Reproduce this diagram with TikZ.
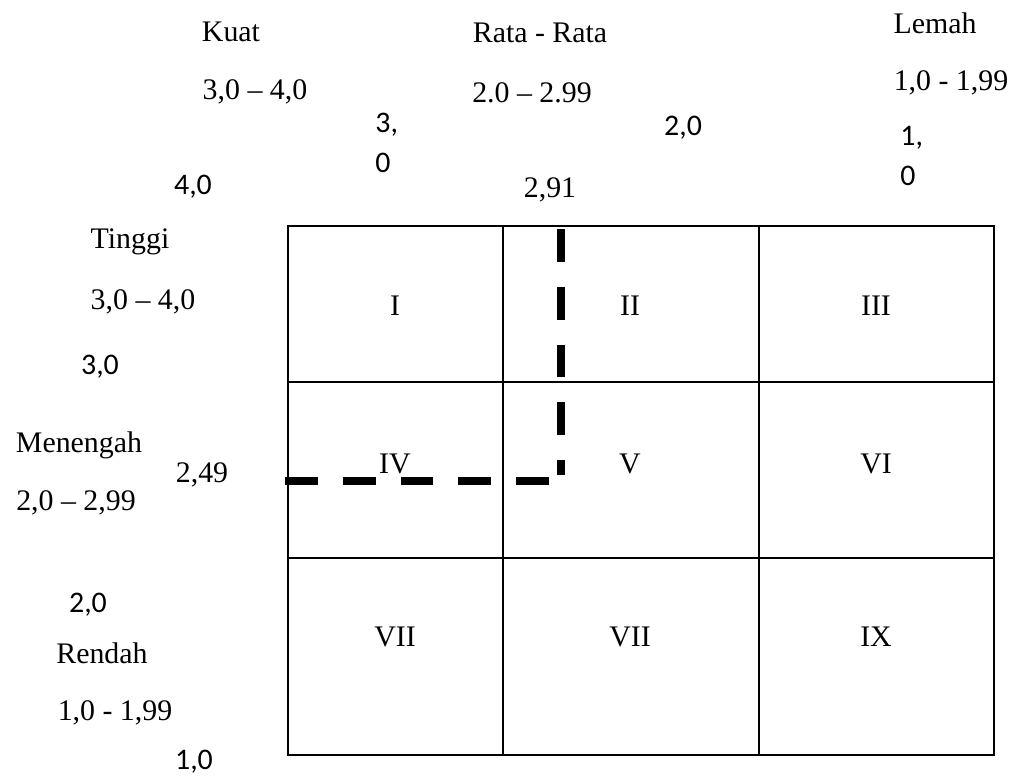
\documentclass[tikz,border=0pt]{standalone}
\usepackage{fontspec}
\setmainfont{Liberation Serif}
\newfontfamily\numfont{Carlito}

\tikzset{
  lbl/.style={font=\fontsize{17}{20}\selectfont, inner sep=0pt},
  num/.style={font=\numfont\fontsize{17}{22.5}\selectfont, inner sep=0pt, align=left},
  gridline/.style={line width=0.9pt},
  cutline/.style={line width=4pt, dash pattern=on 18.7pt off 14.2pt}
}

\begin{document}
\begin{tikzpicture}[x=0.02cm,y=-0.02cm]
    \useasboundingbox (0,0) rectangle (1017,777);

    % matriks IE
    \draw[gridline] (288,226) coordinate (NW) rectangle (994,755) coordinate (SE);
    \draw[gridline] (503,226) coordinate (c1t) -- (503,755) coordinate (c1b);
    \draw[gridline] (759,226) coordinate (c2t) -- (759,755) coordinate (c2b);
    \draw[gridline] (288,382) coordinate (r1l) -- (994,382) coordinate (r1r);
    \draw[gridline] (288,558) coordinate (r2l) -- (994,558) coordinate (r2r);

    % sel
    \node[lbl] (selI)    at (395,306) {I};
    \node[lbl] (selII)   at (630,306) {II};
    \node[lbl] (selIII)  at (876,306) {III};
    \node[lbl] (selIV)   at (395,464) {IV};
    \node[lbl] (selV)    at (630,464) {V};
    \node[lbl] (selVI)   at (876,464) {VI};
    \node[lbl] (selVII)  at (395,637) {VII};
    \node[lbl] (selVIIb) at (630,637) {VII};
    \node[lbl] (selIX)   at (876,637) {IX};

    % posisi skor
    \coordinate (hStart) at (285,481);
    \coordinate (hEnd) at (551,481);
    \coordinate (vTop) at (561,229);
    \coordinate (vEnd) at (561,475);
    \draw[cutline] (hStart) -- (hEnd);
    \draw[cutline] (vTop) -- (vEnd);

    % sumbu atas (IFE)
    \node[lbl] (kuat)     at (231,32) {Kuat};
    \node[lbl] (kuatR)    at (255,92) {3,0 -- 4,0};
    \node[lbl] (rata)     at (540,33) {Rata - Rata};
    \node[lbl] (rataR)    at (532,93) {2.0 -- 2.99};
    \node[lbl] (lemah)    at (935,23) {Lemah};
    \node[lbl] (lemahR)   at (951,83) {1,0 - 1,99};
    \node[num] (x40)      at (193,187) {4,0};
    \node[num, anchor=west] (x30) at (375,143) {3,\\0};
    \node[lbl] (x291)     at (550,190) {2,91};
    \node[num] (x20)      at (683,128) {2,0};
    \node[num, anchor=west] (x10) at (900,156) {1,\\0};

    % sumbu kiri (EFE)
    \node[lbl] (tinggi)   at (130,242) {Tinggi};
    \node[lbl] (tinggiR)  at (143,302) {3,0 -- 4,0};
    \node[num] (y30)      at (100,367) {3,0};
    \node[lbl] (menengah) at (79,445) {Menengah};
    \node[lbl] (y249)     at (202,475) {2,49};
    \node[lbl] (menengahR) at (76,503) {2,0 -- 2,99};
    \node[num] (y20)      at (88,605) {2,0};
    \node[lbl] (rendah)   at (102,653) {Rendah};
    \node[lbl] (rendahR)  at (115,713) {1,0 - 1,99};
    \node[num] (y10)      at (194,762) {1,0};
\end{tikzpicture}
\end{document}
